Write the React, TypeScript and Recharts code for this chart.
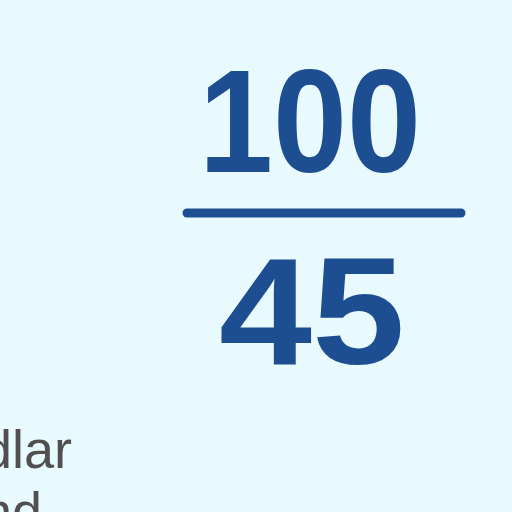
import { Surface, Text } from 'recharts'

const NUMERATOR = '100'
const DENOMINATOR = '45'
const SIDE_LINES = ['dlar', 'nd']

const BLUE = '#1d4e91'
const BG = '#e8fafd'

export default function App() {
  return (
    <div style={{ position: 'absolute', left: 0, top: 0, width: 512, height: 512, background: BG }}>
      <Surface width={512} height={512}>
        <rect x={0} y={0} width={512} height={512} fill={BG} />
        <Text
          x={310} y={172} textAnchor="middle"
          style={{ fontFamily: 'Liberation Sans, Arial, sans-serif', fontWeight: 700, fontSize: 146, fill: BLUE }}
          lengthAdjust="spacingAndGlyphs" textLength={222}
        >
          {NUMERATOR}
        </Text>
        <line x1={187} y1={213} x2={461} y2={213} stroke={BLUE} strokeWidth={9} strokeLinecap="round" />
        <Text
          x={312} y={364} textAnchor="middle"
          style={{ fontFamily: 'Liberation Sans, Arial, sans-serif', fontWeight: 700, fontSize: 152, fill: BLUE }}
          lengthAdjust="spacingAndGlyphs" textLength={186}
        >
          {DENOMINATOR}
        </Text>
        {SIDE_LINES.map((t, i) => (
          <Text
            key={t} x={-18} y={468 + i * 62}
            style={{ fontFamily: 'Liberation Sans, Arial, sans-serif', fontSize: 54, fill: '#505050' }}
          >
            {t}
          </Text>
        ))}
      </Surface>
    </div>
  )
}
